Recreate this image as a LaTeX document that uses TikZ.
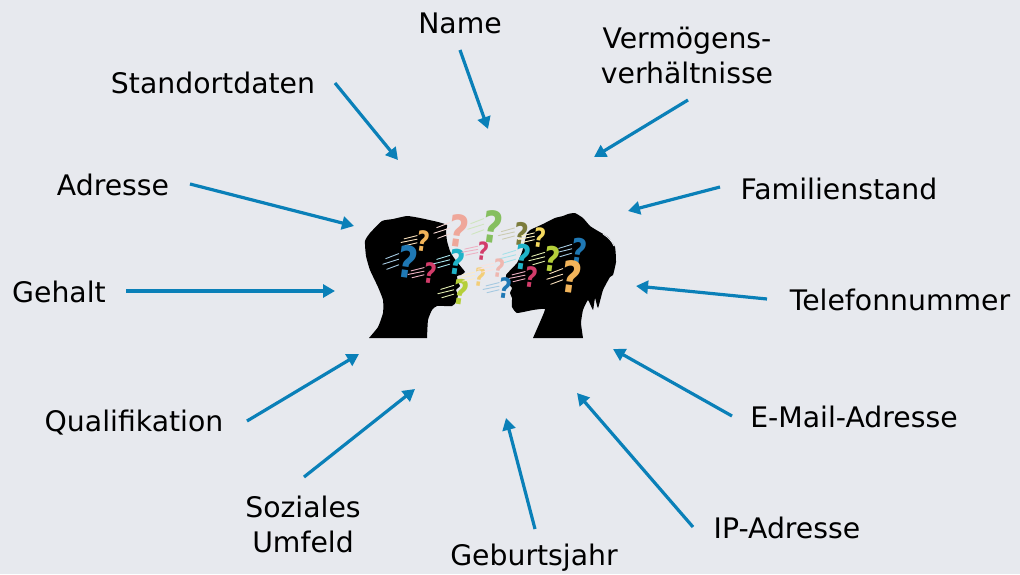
\documentclass[tikz,border=0pt]{standalone}
\usepackage{fontspec}
\setmainfont{DejaVu Sans}
\usetikzlibrary{arrows.meta}
\definecolor{paper}{HTML}{E7E9EE}
\definecolor{arrowblue}{HTML}{0A80B8}
\definecolor{qorange}{HTML}{F2B45A}
\definecolor{qblue}{HTML}{1F78B4}
\definecolor{qred}{HTML}{D23C6A}
\definecolor{qsalmon}{HTML}{EFA79A}
\definecolor{qteal}{HTML}{1FB3C8}
\definecolor{qlime}{HTML}{B5CF3A}
\definecolor{qgreen}{HTML}{86BF5F}
\definecolor{qolive}{HTML}{7C7C3C}
\definecolor{qyellow}{HTML}{F5D95E}
\definecolor{qgold}{HTML}{F3CE78}
\definecolor{qpink}{HTML}{EFB7B0}
\tikzset{
  label text/.style={font=\fontsize{28.3}{35}\selectfont, align=center, inner sep=0pt, text=black},
  pointer/.style={draw=arrowblue, line width=3.2pt, -{Triangle[length=12pt,width=13pt]}},
  head/.style={fill=black, draw=none},
  wisp/.style={line width=0.9pt, line cap=round},
  mark text/.style={inner sep=0pt, rotate=-8, xscale=0.8}
}
% A question mark of height #4 with three speed lines trailing to its left
\newcommand{\askmark}[5]{%
  \pgfmathsetmacro{\marksize}{#4/0.73*1.14}
  \node[mark text, text=#3, font=\fontsize{\marksize}{\marksize}\selectfont\bfseries] (#5) at (#1,#2) {?};
  \draw[wisp, draw=#3!40!white] (#1-#4*0.33-13,#2-#4*0.12) -- (#1-#4*0.33,#2-#4*0.30);
  \draw[wisp, draw=#3!40!white] (#1-#4*0.33-16,#2+#4*0.08) -- (#1-#4*0.33,#2-#4*0.10);
  \draw[wisp, draw=#3!40!white] (#1-#4*0.33-12,#2+#4*0.26) -- (#1-#4*0.33,#2+#4*0.10);
}
\begin{document}
\begin{tikzpicture}[x=1pt,y=-1pt]
\useasboundingbox[fill=paper] (0,0) rectangle (1020,574);

% Head facing right
\fill[head] plot[smooth, tension=0.3] coordinates {
  (369,338) (378,327) (383,313) (383,300) (378,287) (370,270) (366,256) (365,241)
  (370,233) (382,221) (393,219) (407,216) (420,218) (438,222) (447,225) (446,231)
  (447,241) (450,251) (454,258) (462,268) (465,272) (461,275) (457,276) (458,282)
  (460,286) (456,290) (458,295) (456,302) (452,306) (437,306) (432,310) (428,320)
  (427,338)} -- cycle;

% Head facing left, with short spiky hair
\fill[head] plot[smooth, tension=0.25] coordinates {
  (533,338) (540,322) (545,309) (533,310) (517,313) (512,307) (512,298) (510,293)
  (512,288) (508,283) (506,275) (517,263) (522,252) (527,233) (530,230) (543,224)
  (555,218) (563,216) (568,214) (575,213) (583,218) (590,226) (598,231) (608,237)
  (615,247) (616,262) (613,275) (610,277) (603,290) (598,308) (595,298) (593,310)
  (588,300) (583,310) (581,323) (583,338)} -- cycle;
% A lighter strand lifting off the back of the hair
\draw[draw=paper, line width=0.9pt] (603,234) .. controls (608,237) and (612,241) .. (614,246);

% Question marks over and between the heads
\askmark{423}{241}{qorange}{18}{q1}
\askmark{408}{262}{qblue}{28}{q2}
\askmark{430}{273}{qred}{18}{q3}
\askmark{459}{231}{qsalmon}{28}{q4}
\askmark{457}{262}{qteal}{22}{q5}
\askmark{461}{292}{qlime}{22}{q6}
\askmark{483}{251}{qred}{16}{q7}
\askmark{480}{277}{qgold}{16}{q8}
\askmark{493}{227}{qgreen}{28}{q9}
\askmark{521}{234}{qolive}{20}{q10}
\askmark{540}{238}{qyellow}{17}{q11}
\askmark{579}{251}{qblue}{22}{q12}
\askmark{523}{257}{qteal}{22}{q13}
\askmark{552}{259}{qlime}{22}{q14}
\askmark{572}{277}{qorange}{28}{q15}
\askmark{531}{277}{qred}{18}{q16}
\askmark{499}{268}{qpink}{16}{q17}
\askmark{505}{288}{qblue}{18}{q18}

% Labels
\node[label text] (name) at (460,23) {Name};
\node[label text] (standort) at (213,83) {Standortdaten};
\node[label text] (vermoegen) at (687,55) {Vermögens-\\verhältnisse};
\node[label text] (familie) at (839,189) {Familienstand};
\node[label text] (adresse) at (113,185) {Adresse};
\node[label text] (gehalt) at (59,292) {Gehalt};
\node[label text] (telefon) at (900,300) {Telefonnummer};
\node[label text] (quali) at (134,423) {Qualifikation};
\node[label text] (email) at (854,417) {E-Mail-Adresse};
\node[label text] (umfeld) at (303,524) {Soziales\\Umfeld};
\node[label text] (ip) at (787,528) {IP-Adresse};
\node[label text] (geburt) at (534,558) {Geburtsjahr};

% Tail and head points of the arrows
\coordinate (nameA) at (460,50);      \coordinate (nameB) at (488,129);
\coordinate (standA) at (335,83);     \coordinate (standB) at (398,160);
\coordinate (vermA) at (688,100);     \coordinate (vermB) at (594,157);
\coordinate (famA) at (720,187);      \coordinate (famB) at (628,211);
\coordinate (telA) at (767,299);      \coordinate (telB) at (636,286);
\coordinate (mailA) at (732,416);     \coordinate (mailB) at (613,349);
\coordinate (ipA) at (693,527);       \coordinate (ipB) at (577,393);
\coordinate (gebA) at (535,529);      \coordinate (gebB) at (506,418);
\coordinate (umfA) at (304,477);      \coordinate (umfB) at (415,389);
\coordinate (qualA) at (247,421);     \coordinate (qualB) at (359,354);
\coordinate (gehA) at (126,291);      \coordinate (gehB) at (335,291);
\coordinate (adrA) at (190,184);      \coordinate (adrB) at (354,226);

\draw[pointer] (nameA) -- (nameB);
\draw[pointer] (standA) -- (standB);
\draw[pointer] (vermA) -- (vermB);
\draw[pointer] (famA) -- (famB);
\draw[pointer] (telA) -- (telB);
\draw[pointer] (mailA) -- (mailB);
\draw[pointer] (ipA) -- (ipB);
\draw[pointer] (gebA) -- (gebB);
\draw[pointer] (umfA) -- (umfB);
\draw[pointer] (qualA) -- (qualB);
\draw[pointer] (gehA) -- (gehB);
\draw[pointer] (adrA) -- (adrB);
\end{tikzpicture}
\end{document}
